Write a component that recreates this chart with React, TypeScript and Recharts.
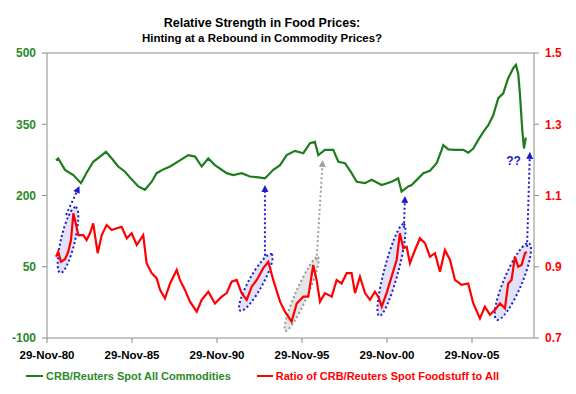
import React from "react";
import { LineChart, Line, XAxis, YAxis, ReferenceLine } from "recharts";

const FONT = '"Liberation Sans", Arial, sans-serif';
const GREEN = "#1d7d1d";
const GREEN_TEXT = "#2a8a2a";
const RED = "#ff0000";
const BLUE = "#1c1ccc";
const AXIS = "#8c8c8c";

// CRB/Reuters Spot All Commodities (left axis)
const commodityYears = [
  1981.44, 1981.57, 1981.97, 1982.46, 1982.91, 1983.24, 1983.63, 1984.03, 1984.38, 1984.72,
  1985.1, 1985.5, 1985.89, 1986.28, 1986.67, 1987.07, 1987.36, 1987.75, 1988.15, 1988.73,
  1989.22, 1989.62, 1990.01, 1990.4, 1990.79, 1991.48, 1991.87, 1992.36, 1992.85, 1993.34,
  1993.73, 1994.22, 1994.62, 1995.01, 1995.5, 1995.99, 1996.38, 1996.67, 1996.87, 1997.26,
  1997.75, 1998.05, 1998.44, 1998.83, 1999.13, 1999.62, 2000.01, 2000.6, 2001.18, 2001.57,
  2001.77, 2002.16, 2002.36, 2002.75, 2003.05, 2003.44, 2003.83, 2004.13, 2004.22, 2004.52,
  2004.91, 2005.4, 2005.69, 2005.99, 2006.28, 2006.58, 2006.87, 2007.16, 2007.46, 2007.75,
  2008.04, 2008.34, 2008.5, 2008.63, 2008.73, 2008.87, 2008.97, 2009.07, 2009.13,
];
const commodityIndex = [
  274, 278, 254, 243, 226, 248, 271, 282, 292, 278,
  261, 250, 234, 219, 212, 229, 247, 255, 261, 274,
  285, 282, 261, 278, 264, 247, 243, 247, 240, 238,
  236, 254, 264, 285, 294, 289, 310, 313, 285, 296,
  296, 271, 268, 247, 229, 226, 233, 222, 229, 236,
  208, 219, 222, 236, 247, 252, 268, 296, 306, 297,
  296, 296, 290, 299, 317, 334, 348, 369, 405, 415,
  447, 468, 475, 457, 415, 338, 299, 320, 320,
];

// Ratio of CRB/Reuters Spot Foodstuff to All (right axis)
const ratioYears = [
  1981.44, 1981.57, 1981.73, 1981.97, 1982.16, 1982.32, 1982.46, 1982.6, 1982.75, 1983.05,
  1983.24, 1983.44, 1983.63, 1983.89, 1984.13, 1984.42, 1984.72, 1985.01, 1985.3, 1985.6,
  1985.89, 1986.19, 1986.57, 1986.77, 1987.07, 1987.36, 1987.56, 1987.85, 1988.15, 1988.54,
  1988.73, 1989.03, 1989.32, 1989.72, 1990.01, 1990.4, 1990.79, 1991.19, 1991.48, 1991.77,
  1992.07, 1992.36, 1992.66, 1992.95, 1993.25, 1993.63, 1993.93, 1994.22, 1994.62, 1994.91,
  1995.3, 1995.6, 1995.99, 1996.28, 1996.57, 1996.77, 1996.97, 1997.26, 1997.66, 1997.95,
  1998.24, 1998.54, 1998.83, 1999.03, 1999.32, 1999.62, 1999.91, 2000.2, 2000.4, 2000.6,
  2000.89, 2001.18, 2001.48, 2001.67, 2001.87, 2002.07, 2002.26, 2002.56, 2002.85, 2003.15,
  2003.44, 2003.73, 2004.03, 2004.32, 2004.62, 2004.91, 2005.3, 2005.69, 2005.99, 2006.38,
  2006.67, 2006.97, 2007.26, 2007.56, 2007.85, 2008.04, 2008.24, 2008.44, 2008.63, 2008.83,
  2009.03, 2009.13,
];
const ratioValues = [
  0.928, 0.942, 0.914, 0.921, 0.942, 0.975, 1.05, 1.022, 0.989, 0.989,
  0.975, 0.994, 1.022, 0.938, 0.989, 1.017, 1.003, 1.008, 1.012, 0.98,
  0.994, 0.961, 0.989, 0.91, 0.882, 0.868, 0.835, 0.811, 0.853, 0.891,
  0.863, 0.835, 0.802, 0.774, 0.807, 0.83, 0.797, 0.816, 0.826, 0.858,
  0.863, 0.826, 0.807, 0.844, 0.863, 0.896, 0.914, 0.863, 0.802, 0.774,
  0.746, 0.797, 0.816, 0.816, 0.905, 0.863, 0.802, 0.826, 0.816, 0.863,
  0.853, 0.882, 0.882, 0.826, 0.872, 0.826, 0.807, 0.83, 0.816, 0.788,
  0.826, 0.872, 0.919, 0.994, 0.952, 0.956, 0.91, 0.947, 0.98, 0.966,
  0.928, 0.938, 0.886, 0.947, 0.919, 0.863, 0.849, 0.853, 0.797, 0.755,
  0.788, 0.765, 0.779, 0.797, 0.783, 0.853, 0.863, 0.928, 0.9, 0.905,
  0.938, 0.942,
];

const xTickLabels = ["29-Nov-80", "29-Nov-85", "29-Nov-90", "29-Nov-95", "29-Nov-00", "29-Nov-05"];
const leftTicks = [-100, 50, 200, 350, 500];
const rightTicks = [0.7, 0.9, 1.1, 1.3, 1.5];

// highlighted rebounds in the ratio
const reboundYearsFrom = [1981.73, 1992.36, 2000.5, 2007.44];
const reboundRatioFrom = [0.891, 0.784, 0.77, 0.759];
const reboundYearsTo = [1982.56, 1994.03, 2001.85, 2009.2];
const reboundRatioTo = [1.059, 0.928, 1.012, 0.958];
const grayRebound = [1995.01, 0.728, 1996.77, 0.919];

// arrows, in left-axis units
const arrowYearFrom = [1982.03, 1993.73, 2001.91, 2009.15];
const arrowValueFrom = [159, 73, 132, 92];
const arrowYearTo = [1982.82, 1993.73, 2001.97, 2009.32];
const arrowValueTo = [220, 222, 199, 292];
const grayArrow = [1996.77, 64, 1997.13, 275];

const dayOfNov29 = 333 / 365;
const xTicks = xTickLabels.map((l) => {
  const yy = Number(l.slice(-2));
  return (yy < 50 ? 2000 + yy : 1900 + yy) + dayOfNov29;
});

const commodityData = commodityYears.map((year, i) => ({ year, value: commodityIndex[i] }));
const ratioData = ratioYears.map((year, i) => ({ year, value: ratioValues[i] }));

const ellipseShape = (stroke: string, fill: string, ry: number) => (p: any) => {
  const { x1, y1, x2, y2 } = p;
  const cx = (x1 + x2) / 2;
  const cy = (y1 + y2) / 2;
  const len = Math.hypot(x2 - x1, y2 - y1);
  const ang = (Math.atan2(y2 - y1, x2 - x1) * 180) / Math.PI;
  return (
    <ellipse
      cx={cx}
      cy={cy}
      rx={len / 2 + 3}
      ry={ry}
      transform={`rotate(${ang} ${cx} ${cy})`}
      fill={fill}
      fillOpacity={0.55}
      stroke={stroke}
      strokeWidth={2}
      strokeDasharray="2 2.5"
    />
  );
};

const arrowShape = (color: string, note?: string) => (p: any) => {
  const { x1, y1, x2, y2 } = p;
  const ang = Math.atan2(y2 - y1, x2 - x1);
  const s = 7;
  const w = 3.5;
  const bx = x2 - s * Math.cos(ang);
  const by = y2 - s * Math.sin(ang);
  const nx = -Math.sin(ang) * w;
  const ny = Math.cos(ang) * w;
  return (
    <g>
      <line x1={x1} y1={y1} x2={bx} y2={by} stroke={color} strokeWidth={2} strokeDasharray="2 2.5" />
      <polygon points={`${x2},${y2} ${bx + nx},${by + ny} ${bx - nx},${by - ny}`} fill={color} />
      {note ? (
        <text x={x2 - 9} y={y2 + 13} fill={color} fontSize={12} fontWeight="bold" fontFamily={FONT} textAnchor="end">
          {note}
        </text>
      ) : null}
    </g>
  );
};

const tickStyle = (fill: string) => ({ fill, fontSize: 12, fontWeight: "bold", fontFamily: FONT });

export default function App() {
  return (
    <div style={{ position: "absolute", left: 0, top: 0, width: 576, height: 394, background: "#fff", fontFamily: FONT }}>
      <div style={{ position: "absolute", top: 16, left: 0, width: 524, textAlign: "center", fontSize: 12.5, fontWeight: "bold", color: "#000" }}>
        Relative Strength in Food Prices:
      </div>
      <div style={{ position: "absolute", top: 32, left: 0, width: 524, textAlign: "center", fontSize: 11.5, fontWeight: "bold", color: "#000" }}>
        Hinting at a Rebound in Commodity Prices?
      </div>
      <LineChart width={576} height={394} margin={{ top: 53, right: 0, bottom: 0, left: 0 }}>
        <XAxis
          dataKey="year"
          type="number"
          domain={[1980.91, 2009.56]}
          ticks={xTicks}
          tickFormatter={(v: number) => xTickLabels[xTicks.findIndex((t) => Math.abs(t - v) < 0.01)] ?? ""}
          allowDataOverflow
          height={56}
          tickSize={5}
          tickMargin={8}
          stroke={AXIS}
          tick={{ fill: "#000", fontSize: 11.5, fontWeight: "bold", fontFamily: FONT }}
        />
        <YAxis
          yAxisId="left"
          domain={[-100, 500]}
          ticks={leftTicks}
          width={47}
          tickSize={5}
          tickMargin={6}
          stroke={AXIS}
          tick={tickStyle(GREEN_TEXT)}
        />
        <YAxis
          yAxisId="right"
          orientation="right"
          domain={[0.7, 1.5]}
          ticks={rightTicks}
          tickFormatter={(v: number) => v.toFixed(1)}
          width={42}
          tickSize={5}
          tickMargin={6}
          stroke={AXIS}
          tick={tickStyle(RED)}
        />
        <ReferenceLine yAxisId="left" y={500} stroke={AXIS} />
        {reboundYearsFrom.map((yr, i) => (
          <ReferenceLine
            key={"e" + i}
            yAxisId="right"
            segment={[
              { x: yr, y: reboundRatioFrom[i] },
              { x: reboundYearsTo[i], y: reboundRatioTo[i] },
            ]}
            shape={ellipseShape(BLUE, "#c8c8f0", i === 3 ? 9 : 7)}
          />
        ))}
        <ReferenceLine
          yAxisId="right"
          segment={[
            { x: grayRebound[0], y: grayRebound[1] },
            { x: grayRebound[2], y: grayRebound[3] },
          ]}
          shape={ellipseShape("#999999", "#d0d0d0", 6)}
        />
        <Line
          data={commodityData}
          yAxisId="left"
          dataKey="value"
          stroke={GREEN}
          strokeWidth={2.2}
          dot={false}
          type="linear"
          isAnimationActive={false}
        />
        <Line
          data={ratioData}
          yAxisId="right"
          dataKey="value"
          stroke={RED}
          strokeWidth={2.2}
          dot={false}
          type="linear"
          isAnimationActive={false}
        />
        {arrowYearFrom.map((yr, i) => (
          <ReferenceLine
            key={"a" + i}
            yAxisId="left"
            segment={[
              { x: yr, y: arrowValueFrom[i] },
              { x: arrowYearTo[i], y: arrowValueTo[i] },
            ]}
            shape={arrowShape(BLUE, i === 3 ? "??" : undefined)}
          />
        ))}
        <ReferenceLine
          yAxisId="left"
          segment={[
            { x: grayArrow[0], y: grayArrow[1] },
            { x: grayArrow[2], y: grayArrow[3] },
          ]}
          shape={arrowShape("#a0a0a0")}
        />
      </LineChart>
      <div style={{ position: "absolute", top: 370, left: 26, display: "flex", alignItems: "center", fontSize: 11, fontWeight: "bold", whiteSpace: "nowrap" }}>
        <span style={{ display: "inline-block", width: 17, height: 2, background: GREEN, marginRight: 3 }} />
        <span style={{ color: GREEN_TEXT }}>CRB/Reuters Spot All Commodities</span>
        <span style={{ display: "inline-block", width: 16, height: 2, background: RED, marginLeft: 26, marginRight: 3 }} />
        <span style={{ color: RED }}>Ratio of CRB/Reuters Spot Foodstuff to All</span>
      </div>
    </div>
  );
}
